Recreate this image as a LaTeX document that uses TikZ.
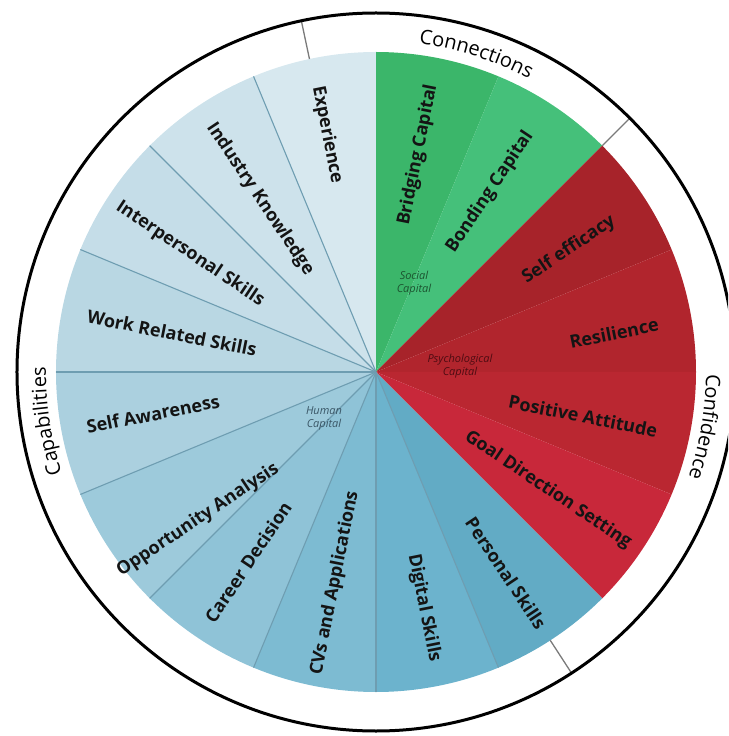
\documentclass[tikz,border=0pt]{standalone}
\usepackage{fontspec}
\setmainfont{Open Sans}
\usetikzlibrary{decorations.text}

% segment fills
\definecolor{cBridging}{HTML}{3BB66A}
\definecolor{cBonding}{HTML}{45C07A}
\definecolor{cSelfEff}{HTML}{A7232A}
\definecolor{cResil}{HTML}{B1252D}
\definecolor{cPosAtt}{HTML}{BA2731}
\definecolor{cGoal}{HTML}{C8283A}
\definecolor{cPersonal}{HTML}{62ABC5}
\definecolor{cDigital}{HTML}{6CB3CD}
\definecolor{cCVs}{HTML}{7DBBD2}
\definecolor{cCareer}{HTML}{8FC3D7}
\definecolor{cOpport}{HTML}{9DCADB}
\definecolor{cSelfAw}{HTML}{ABD0DF}
\definecolor{cWork}{HTML}{B9D7E3}
\definecolor{cInterp}{HTML}{C5DDE8}
\definecolor{cIndustry}{HTML}{CDE2EB}
\definecolor{cExper}{HTML}{D7E8EF}
% lines and text
\definecolor{sepBlue}{HTML}{6E9DB1}
\definecolor{ringGray}{HTML}{7A7A7A}
\definecolor{labText}{HTML}{141414}
\definecolor{socialText}{HTML}{1C5430}
\definecolor{psychText}{HTML}{4E0C12}
\definecolor{humanText}{HTML}{3A5666}

\newcommand\ringlabelfont{\fontsize{20}{24}\selectfont}

\begin{document}
\begin{tikzpicture}[x=1pt,y=1pt,
  wedgelabel/.style={font=\bfseries\fontsize{18}{20}\selectfont, text=labText, inner sep=0pt},
  capitallabel/.style={font=\itshape\fontsize{11}{13}\selectfont, align=center, inner sep=0pt},
  sepline/.style={draw=sepBlue, line width=1.1pt},
  ringdivider/.style={draw=ringGray, line width=1.3pt},
  ringtext/.style={decorate, decoration={text along path, text align=center}}
]
\useasboundingbox (-376,-364) rectangle (352,372);
\clip (-376,-364) rectangle (352,372);

% the sixteen wedges, clockwise from the top
\foreach \i/\c in {0/cBridging,1/cBonding,2/cSelfEff,3/cResil,4/cPosAtt,5/cGoal,
                   6/cPersonal,7/cDigital,8/cCVs,9/cCareer,10/cOpport,11/cSelfAw,
                   12/cWork,13/cInterp,14/cIndustry,15/cExper}{
  \fill[\c] (0,0) -- ({90-22.5*\i}:320pt)
    arc[start angle={90-22.5*\i}, delta angle=-22.5, radius=320pt] -- cycle;
}

% separators between the human capital wedges
\foreach \a in {112.5,135,157.5,180,202.5,225,247.5,270,292.5}{
  \draw[sepline] (0,0) -- (\a:320pt);
}

% outer ring
\draw[ringdivider] (102:320pt) -- (102:359pt);
\draw[ringdivider] (45:320pt) -- (45:359pt);
\draw[ringdivider] (-57:320pt) -- (-57:359pt);
\draw[line width=3pt] (0,0) circle[radius=359pt];

\path[ringtext, decoration={text={|\ringlabelfont|Connections}}]
  (89:331pt) arc[start angle=89, end angle=56, radius=331pt];
\path[ringtext, decoration={text={|\ringlabelfont|Confidence}}]
  (7:330pt) arc[start angle=7, end angle=-26, radius=330pt];
\path[ringtext, decoration={text={|\ringlabelfont|Capabilities}}]
  (205:330pt) arc[start angle=205, end angle=172, radius=330pt];

% wedge labels
\node[wedgelabel, rotate=78.75]  (bridging)   at (42,217)    {Bridging Capital};
\node[wedgelabel, rotate=56.25]  (bonding)    at (114,180)   {Bonding Capital};
\node[wedgelabel, rotate=33.75]  (selfeff)    at (193,122)   {Self efficacy};
\node[wedgelabel, rotate=11.25]  (resilience) at (238,39)    {Resilience};
\node[wedgelabel, rotate=-11.25] (posatt)     at (207,-44)   {Positive Attitude};
\node[wedgelabel, rotate=-33.75] (goal)       at (172,-118)  {Goal Direction Setting};
\node[wedgelabel, rotate=-56.25] (personal)   at (130,-201)  {Personal Skills};
\node[wedgelabel, rotate=-78.75] (digital)    at (48,-236)   {Digital Skills};
\node[wedgelabel, rotate=78.75]  (cvs)        at (-41,-211)  {CVs and Applications};
\node[wedgelabel, rotate=56.25]  (career)     at (-128,-190) {Career Decision};
\node[wedgelabel, rotate=33.75]  (opport)     at (-178,-148) {Opportunity Analysis};
\node[wedgelabel, rotate=11.25]  (selfaw)     at (-223,-42)  {Self Awareness};
\node[wedgelabel, rotate=-11.25] (work)       at (-204,39)   {Work Related Skills};
\node[wedgelabel, rotate=-33.75] (interp)     at (-186,118)  {Interpersonal Skills};
\node[wedgelabel, rotate=-56.25] (industry)   at (-116,173)  {Industry Knowledge};
\node[wedgelabel, rotate=-78.75] (experience) at (-49,237)   {Experience};

% capital group labels near the hub
\node[capitallabel, text=socialText] (social) at (38,89)   {Social\\Capital};
\node[capitallabel, text=psychText]  (psych)  at (84,6)    {Psychological\\Capital};
\node[capitallabel, text=humanText]  (human)  at (-52,-46) {Human\\Capital};
\end{tikzpicture}
\end{document}
